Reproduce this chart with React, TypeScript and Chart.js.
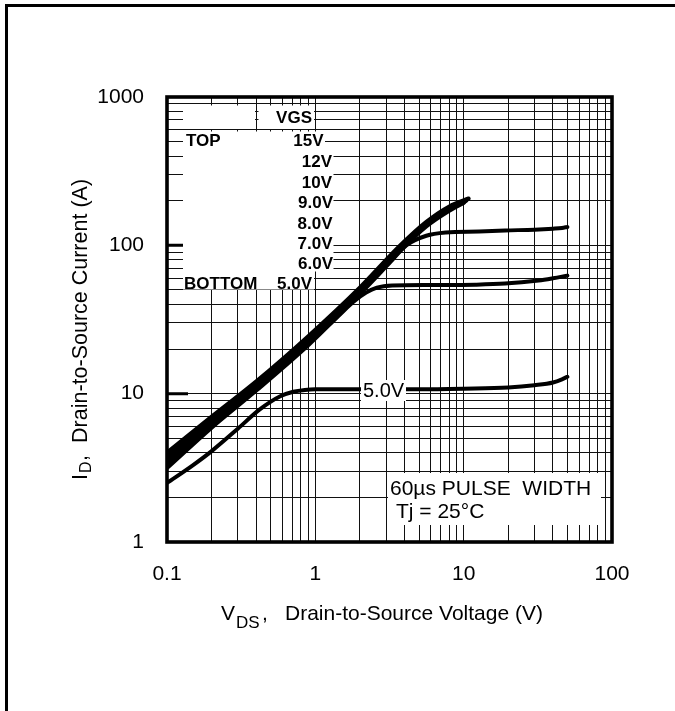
import React, { useEffect, useRef } from 'react';
import { Chart, registerables } from 'chart.js';

Chart.register(...registerables);

const FONT = "'Liberation Sans', Arial, Helvetica, sans-serif";

// ---- axes ----
const xDecades = [0.1, 1, 10, 100];
const xTickLabels = ['0.1', '1', '10', '100'];
const yDecades = [1, 10, 100, 1000];
const yTickLabels = ['1', '10', '100', '1000'];
const gridMultipliers = [1, 2, 3, 4, 5, 6, 7, 8, 9];

// ---- legend ----
const legendTitle = 'VGS';
const legendTop = 'TOP';
const legendBottom = 'BOTTOM';
const vgsLabels = ['15V', '12V', '10V', '9.0V', '8.0V', '7.0V', '6.0V', '5.0V'];

// ---- curves (VDS in V, ID in A) ----
const vds15 = [0.1, 0.2, 0.4, 0.9, 2, 3.7, 5.6, 8, 10.8];
const id15 = [4.0, 7.0, 12.1, 24.5, 52, 99, 144, 183, 207];
const vds12 = [0.1, 0.2, 0.4, 0.9, 2, 3.7, 5.6, 8, 10.6];
const id12 = [3.85, 6.8, 11.8, 23.8, 51, 97, 141, 180, 204];
const vds10 = [0.1, 0.2, 0.4, 0.9, 2, 3.7, 5.6, 8, 10.4];
const id10 = [3.7, 6.6, 11.5, 23.2, 50, 95, 139, 177, 200];
const vds9 = [0.1, 0.2, 0.4, 0.9, 2, 3.7, 5.6, 8, 10.2];
const id9 = [3.55, 6.4, 11.2, 22.7, 49, 93, 137, 174, 197];
const vds8 = [0.1, 0.2, 0.4, 0.9, 2, 3.7, 5.6, 8, 10.0];
const id8 = [3.4, 6.2, 10.9, 22.2, 48, 91, 134, 171, 193];
const vds7 = [0.1, 0.2, 0.4, 0.9, 2, 3.2, 4.1, 5.6, 7.6, 12.7, 19, 30, 40, 46, 50];
const id7 = [3.28, 6.05, 10.7, 21.8, 47, 77, 100, 116, 122, 124, 126, 127.5, 129.5, 131, 133];
const vds6 = [0.1, 0.2, 0.4, 0.9, 1.5, 1.8, 2.2, 2.6, 3.3, 6, 12, 19, 32, 40, 46, 50];
const id6 = [3.15, 5.9, 10.5, 21.3, 35, 41.5, 48, 51.8, 53.6, 54, 54.3, 55.2, 58, 60, 61.5, 62.5];
const vds5 = [0.1, 0.15, 0.2, 0.3, 0.42, 0.58, 0.71, 0.85, 1, 2, 5, 10, 20, 30, 40, 46, 50];
const id5 = [2.5, 3.3, 4.1, 5.8, 7.8, 9.6, 10.3, 10.6, 10.7, 10.7, 10.7, 10.8, 11.0, 11.4, 11.9, 12.5, 13.0];

const curveLabel = '5.0V';
const noteLine1 = '60\u00b5s PULSE  WIDTH';
const noteLine2 = 'Tj = 25\u00b0C';

const curves = [
  { label: '15V', xs: vds15, ys: id15, w: 4 },
  { label: '12V', xs: vds12, ys: id12, w: 4 },
  { label: '10V', xs: vds10, ys: id10, w: 4 },
  { label: '9.0V', xs: vds9, ys: id9, w: 4 },
  { label: '8.0V', xs: vds8, ys: id8, w: 4 },
  { label: '7.0V', xs: vds7, ys: id7, w: 4 },
  { label: '6.0V', xs: vds6, ys: id6, w: 4 },
  { label: '5.0V', xs: vds5, ys: id5, w: 4 },
];

function gridValues(decades: number[]) {
  const out: number[] = [];
  decades.forEach((d, i) => {
    if (i === decades.length - 1) {
      out.push(d);
    } else {
      gridMultipliers.forEach((m) => out.push(Number((d * m).toPrecision(6))));
    }
  });
  return out;
}

function decadeLabel(decades: number[], labels: string[], v: number) {
  const i = decades.findIndex((d) => Math.abs(d - v) < d * 1e-6);
  return i >= 0 ? labels[i] : '';
}

const annotate = {
  id: 'annotate',
  beforeDatasetsDraw(chart: any) {
    const ctx = chart.ctx as CanvasRenderingContext2D;
    ctx.save();
    ctx.fillStyle = '#fff';
    // legend masks
    ctx.fillRect(183, 105.5, 72, 23.5);
    ctx.fillRect(258.5, 105.5, 55.5, 23.5);
    ctx.fillRect(183, 131.5, 131, 158);
    ctx.fillRect(314, 131.5, 11, 14.5);
    ctx.fillRect(314, 146, 19.5, 125.5);
    // pulse note mask
    ctx.fillRect(388, 473, 213, 52);

    ctx.fillStyle = '#000';
    ctx.textBaseline = 'middle';
    ctx.font = `bold 17px ${FONT}`;
    ctx.textAlign = 'right';
    ctx.fillText(legendTitle, 312, 118.5);
    const rowsY = [141.5, 162.5, 183, 203.5, 224, 244.5, 264.5, 284.5];
    const rowsR = [323.5, 332, 332, 333, 332.5, 332.5, 333, 312];
    vgsLabels.forEach((l, i) => ctx.fillText(l, rowsR[i], rowsY[i]));
    ctx.textAlign = 'left';
    ctx.fillText(legendTop, 186, 141.5);
    ctx.fillText(legendBottom, 184, 284.5);

    ctx.font = `21px ${FONT}`;
    ctx.fillText(noteLine1, 390, 489);
    ctx.fillText(noteLine2, 396, 512);
    ctx.restore();
  },
  afterDatasetsDraw(chart: any) {
    const ctx = chart.ctx as CanvasRenderingContext2D;
    ctx.save();
    ctx.fillStyle = '#fff';
    ctx.fillRect(361, 380, 45, 21);
    ctx.fillStyle = '#000';
    ctx.font = `20px ${FONT}`;
    ctx.textBaseline = 'middle';
    ctx.textAlign = 'left';
    ctx.fillText(curveLabel, 363, 391);
    ctx.restore();
  },
  afterDraw(chart: any) {
    const ctx = chart.ctx as CanvasRenderingContext2D;
    const a = chart.chartArea;
    const y = chart.scales.y;
    ctx.save();
    // plot border
    ctx.strokeStyle = '#000';
    ctx.lineWidth = 3.6;
    ctx.strokeRect(a.left, a.top, a.right - a.left, a.bottom - a.top);
    // thick decade stubs
    ctx.lineWidth = 3;
    ctx.beginPath();
    const y100 = y.getPixelForValue(100);
    const y10 = y.getPixelForValue(10);
    ctx.moveTo(a.left, y100);
    ctx.lineTo(a.left + 16, y100);
    ctx.moveTo(a.left, y10);
    ctx.lineTo(a.left + 21, y10);
    ctx.stroke();
    // outer frame
    ctx.fillStyle = '#000';
    ctx.fillRect(5, 4, 670, 3);
    ctx.fillRect(5, 4, 3, 707);

    // x title
    ctx.textBaseline = 'alphabetic';
    ctx.textAlign = 'left';
    ctx.font = `21px ${FONT}`;
    ctx.fillText('V', 221, 620);
    ctx.font = `17px ${FONT}`;
    ctx.fillText('DS', 236, 628);
    ctx.font = `21px ${FONT}`;
    ctx.fillText(',', 262, 620);
    ctx.fillText('Drain-to-Source Voltage (V)', 285, 620);

    // y title
    ctx.translate(86.5, 480);
    ctx.rotate(-Math.PI / 2);
    ctx.font = `21.5px ${FONT}`;
    ctx.fillText('I', 0, 0);
    ctx.font = `16px ${FONT}`;
    ctx.fillText('D', 7, 4.5);
    ctx.font = `21.5px ${FONT}`;
    ctx.fillText(',', 19, 0);
    ctx.fillText('Drain-to-Source Current (A)', 37, 0);
    ctx.restore();
  },
};

export default function App() {
  const ref = useRef<HTMLCanvasElement>(null);

  useEffect(() => {
    const canvas = ref.current;
    if (!canvas) return;
    const xGrid = gridValues(xDecades);
    const yGrid = gridValues(yDecades);
    const gridStyle = { color: '#111', lineWidth: 1, drawTicks: false };
    const tickFont = { family: FONT, size: 21 };

    const chart = new Chart(canvas, {
      type: 'scatter',
      data: {
        datasets: curves.map((c) => ({
          label: c.label,
          data: c.xs.map((x, i) => ({ x, y: c.ys[i] })),
          showLine: true,
          borderColor: '#000',
          backgroundColor: '#000',
          borderWidth: c.w,
          pointRadius: 0,
          pointHoverRadius: 0,
          cubicInterpolationMode: 'monotone' as const,
          borderCapStyle: 'round' as const,
          borderJoinStyle: 'round' as const,
          fill: false,
        })),
      },
      options: {
        animation: false,
        responsive: false,
        devicePixelRatio: 1,
        events: [],
        layout: { padding: { left: 0, right: 63, top: 97, bottom: 0 } },
        plugins: { legend: { display: false }, tooltip: { enabled: false }, title: { display: false } },
        scales: {
          x: {
            type: 'logarithmic',
            min: 0.1,
            max: 100,
            afterBuildTicks: (s: any) => {
              s.ticks = xGrid.map((v) => ({ value: v }));
            },
            afterFit: (s: any) => {
              s.height = 169;
            },
            grid: gridStyle,
            border: { display: false },
            ticks: {
              autoSkip: false,
              maxRotation: 0,
              minRotation: 0,
              padding: 20,
              color: '#000',
              font: tickFont,
              callback: (v: any) => decadeLabel(xDecades, xTickLabels, Number(v)),
            },
          },
          y: {
            type: 'logarithmic',
            min: 1,
            max: 1000,
            afterBuildTicks: (s: any) => {
              s.ticks = yGrid.map((v) => ({ value: v }));
            },
            afterFit: (s: any) => {
              s.width = 167;
            },
            grid: gridStyle,
            border: { display: false },
            ticks: {
              autoSkip: false,
              padding: 23,
              color: '#000',
              font: tickFont,
              callback: (v: any) => decadeLabel(yDecades, yTickLabels, Number(v)),
            },
          },
        },
      },
      plugins: [annotate],
    } as any);

    return () => chart.destroy();
  }, []);

  return (
    <div style={{ position: 'absolute', left: 0, top: 0, width: 675, height: 711, background: '#fff' }}>
      <canvas ref={ref} width={675} height={711} style={{ display: 'block', width: 675, height: 711 }} />
    </div>
  );
}
